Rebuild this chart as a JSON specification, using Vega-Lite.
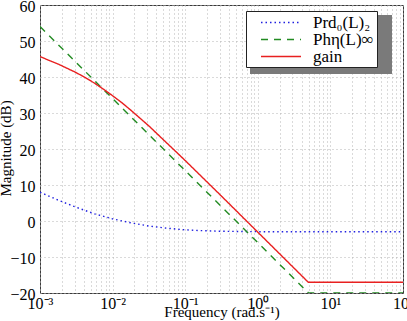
{
  "$schema": "https://vega.github.io/schema/vega-lite/v6.json",
  "width": 363,
  "height": 288,
  "autosize": {"type": "none"},
  "padding": {"left": 40, "top": 5, "right": 4, "bottom": 28},
  "config": {
    "font": "Liberation Serif, Times New Roman, Times, serif",
    "view": {"stroke": "#3a3a3a", "strokeWidth": 1},
    "axis": {
      "domain": false,
      "ticks": false,
      "grid": true,
      "gridColor": "#b4b4b4",
      "gridDash": [1, 3],
      "gridWidth": 1,
      "labelFont": "Liberation Serif, Times New Roman, Times, serif",
      "labelFontSize": 16,
      "labelColor": "#000",
      "titleFont": "Liberation Serif, Times New Roman, Times, serif",
      "titleFontSize": 15,
      "titleFontWeight": "normal",
      "titleColor": "#000"
    }
  },
  "layer": [
    {
      "data": {"values": [{"box": "backdrop"}]},
      "mark": {"type": "point", "filled": true, "size": 0},
      "encoding": {
        "fill": {
          "field": "box",
          "type": "nominal",
          "scale": {"range": ["#7a7a7a"]},
          "legend": {
            "title": null,
            "orient": "none",
            "legendX": 210,
            "legendY": -31.5,
            "zindex": 0,
            "padding": 0,
            "symbolType": "M-1,-0.4155H1V0.4155H-1Z",
            "symbolSize": 20164,
            "symbolOffset": 0,
            "symbolStrokeWidth": 0,
            "symbolOpacity": 1,
            "labelExpr": "''",
            "labelOffset": 0
          }
        }
      }
    },
    {
      "data": {
        "values": [
          {"freq": 0.001, "mag": 8.0, "series": "Prd₀(L)₂"},
          {"freq": 0.001778, "mag": 5.8, "series": "Prd₀(L)₂"},
          {"freq": 0.003162, "mag": 3.8, "series": "Prd₀(L)₂"},
          {"freq": 0.005623, "mag": 2.0, "series": "Prd₀(L)₂"},
          {"freq": 0.01, "mag": 0.6, "series": "Prd₀(L)₂"},
          {"freq": 0.01778, "mag": -0.5, "series": "Prd₀(L)₂"},
          {"freq": 0.03162, "mag": -1.4, "series": "Prd₀(L)₂"},
          {"freq": 0.05623, "mag": -2.0, "series": "Prd₀(L)₂"},
          {"freq": 0.1, "mag": -2.45, "series": "Prd₀(L)₂"},
          {"freq": 0.1778, "mag": -2.7, "series": "Prd₀(L)₂"},
          {"freq": 0.3162, "mag": -2.85, "series": "Prd₀(L)₂"},
          {"freq": 1, "mag": -2.97, "series": "Prd₀(L)₂"},
          {"freq": 10, "mag": -3.0, "series": "Prd₀(L)₂"},
          {"freq": 100, "mag": -3.0, "series": "Prd₀(L)₂"},

          {"freq": 0.001, "mag": 54, "series": "Phη(L)∞"},
          {"freq": 5.0, "mag": -20, "series": "Phη(L)∞"},
          {"freq": 100, "mag": -20, "series": "Phη(L)∞"},

          {"freq": 0.001, "mag": 45.7, "series": "gain"},
          {"freq": 0.001334, "mag": 44.6, "series": "gain"},
          {"freq": 0.001778, "mag": 43.6, "series": "gain"},
          {"freq": 0.002371, "mag": 42.4, "series": "gain"},
          {"freq": 0.003162, "mag": 41.2, "series": "gain"},
          {"freq": 0.004217, "mag": 39.8, "series": "gain"},
          {"freq": 0.005623, "mag": 38.3, "series": "gain"},
          {"freq": 0.007499, "mag": 36.6, "series": "gain"},
          {"freq": 0.01, "mag": 34.8, "series": "gain"},
          {"freq": 0.01334, "mag": 32.9, "series": "gain"},
          {"freq": 0.01778, "mag": 30.8, "series": "gain"},
          {"freq": 0.02371, "mag": 28.6, "series": "gain"},
          {"freq": 0.03162, "mag": 26.4, "series": "gain"},
          {"freq": 0.05623, "mag": 21.6, "series": "gain"},
          {"freq": 0.1, "mag": 16.8, "series": "gain"},
          {"freq": 0.3162, "mag": 6.9, "series": "gain"},
          {"freq": 1, "mag": -3.1, "series": "gain"},
          {"freq": 4.95, "mag": -17, "series": "gain"},
          {"freq": 100, "mag": -17, "series": "gain"}
        ]
      },
      "mark": {"type": "line", "strokeWidth": 1.4, "clip": true},
      "encoding": {
        "x": {
          "field": "freq",
          "type": "quantitative",
          "scale": {"type": "log", "domain": [0.001, 100], "nice": false},
          "axis": {
            "values": [0.001, 0.002, 0.003, 0.004, 0.005, 0.006, 0.007, 0.008, 0.009,
                       0.01, 0.02, 0.03, 0.04, 0.05, 0.06, 0.07, 0.08, 0.09,
                       0.1, 0.2, 0.3, 0.4, 0.5, 0.6, 0.7, 0.8, 0.9,
                       1, 2, 3, 4, 5, 6, 7, 8, 9,
                       10, 20, 30, 40, 50, 60, 70, 80, 90, 100],
            "labelExpr": "datum.value == 0.001 ? '10⁻³' : datum.value == 0.01 ? '10⁻²' : datum.value == 0.1 ? '10⁻¹' : datum.value == 1 ? '10⁰' : datum.value == 10 ? '10¹' : datum.value == 100 ? '10²' : ''",
            "labelOverlap": false,
            "labelFlush": false,
            "labelPadding": 2,
            "title": "Frequency (rad.s⁻¹)",
            "titleX": 181.5,
            "titleY": 23,
            "titleBaseline": "alphabetic"
          }
        },
        "y": {
          "field": "mag",
          "type": "quantitative",
          "scale": {"domain": [-20, 60], "nice": false, "zero": false},
          "axis": {
            "values": [-20, -10, 0, 10, 20, 30, 40, 50, 60],
            "labelPadding": 5,
            "labelOffset": 1.5,
            "title": "Magnitude (dB)",
            "titleX": -30,
            "titleY": 143,
            "titleBaseline": "alphabetic",
            "titleAngle": -90,
            "titleAlign": "center"
          }
        },
        "color": {
          "field": "series",
          "type": "nominal",
          "scale": {
            "domain": ["Prd₀(L)₂", "Phη(L)∞", "gain"],
            "range": ["#1f1fe0", "#228b22", "#e82020"]
          },
          "legend": {
            "title": null,
            "orient": "none",
            "legendX": 206,
            "legendY": 6,
            "zindex": 1,
            "fillColor": "#ffffff",
            "strokeColor": "#222",
            "padding": 2.5,
            "symbolType": "M-2.5,0H2.5",
            "symbolSize": 256,
            "symbolStrokeWidth": 1.4,
            "symbolOffset": 23.5,
            "labelOffset": 23,
            "labelFont": "Liberation Serif, Times New Roman, Times, serif",
            "labelFontSize": 17,
            "labelColor": "#000",
            "rowPadding": 0,
            "labelExpr": "datum.label + '\u2007\u2007\u2007\u2007'"
          }
        },
        "strokeDash": {
          "field": "series",
          "type": "nominal",
          "scale": {
            "domain": ["Prd₀(L)₂", "Phη(L)∞", "gain"],
            "range": [[1.5, 3], [7, 6], [1, 0]]
          },
          "legend": {
            "title": null,
            "orient": "none",
            "legendX": 206,
            "legendY": 6,
            "zindex": 1,
            "fillColor": "#ffffff",
            "strokeColor": "#222",
            "padding": 2.5,
            "symbolType": "M-2.5,0H2.5",
            "symbolSize": 256,
            "symbolStrokeWidth": 1.4,
            "symbolOffset": 23.5,
            "labelOffset": 23,
            "labelFont": "Liberation Serif, Times New Roman, Times, serif",
            "labelFontSize": 17,
            "labelColor": "#000",
            "rowPadding": 0,
            "labelExpr": "datum.label + '\u2007\u2007\u2007\u2007'"
          }
        }
      }
    }
  ]
}
